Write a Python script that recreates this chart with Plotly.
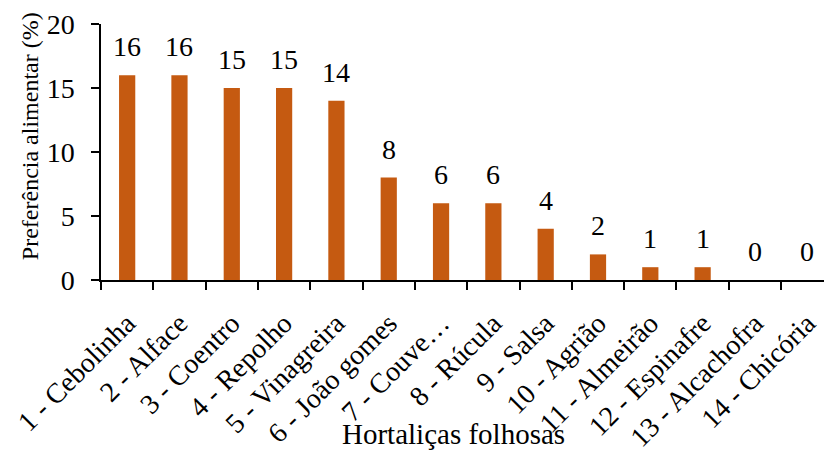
import plotly.graph_objects as go

categories = [
    "1 - Cebolinha", "2 - Alface", "3 - Coentro", "4 - Repolho",
    "5 - Vinagreira", "6 - João gomes", "7 - Couve…", "8 - Rúcula",
    "9 - Salsa", "10 - Agrião", "11 - Almeirão", "12 - Espinafre",
    "13 - Alcachofra", "14 - Chicória",
]
values = [16, 16, 15, 15, 14, 8, 6, 6, 4, 2, 1, 1, 0, 0]
y_ticks = [0, 5, 10, 15, 20]

FONT = "Liberation Serif"
BAR_COLOR = "#C55A11"

fig = go.Figure()
fig.add_trace(go.Bar(
    x=categories,
    y=values,
    marker=dict(color=BAR_COLOR, line=dict(width=0)),
    showlegend=False,
))

# value labels above each bar
for cat, val in zip(categories, values):
    fig.add_annotation(
        x=cat, y=val, text=str(val), showarrow=False,
        yanchor="bottom", yshift=11,
        font=dict(family=FONT, size=28, color="black"),
    )

# axis titles
fig.add_annotation(
    xref="paper", yref="paper", x=0.488, y=-0.664, yshift=-2,
    xanchor="center", yanchor="bottom", showarrow=False,
    text="Hortaliças folhosas", font=dict(family=FONT, size=29, color="black"),
)
fig.add_annotation(
    xref="paper", yref="paper", x=-0.098, y=0.5625,
    xanchor="center", yanchor="middle", showarrow=False, textangle=-90,
    text="Preferência alimentar (%)", font=dict(family=FONT, size=24, color="black"),
)

fig.update_layout(
    width=824, height=450,
    margin=dict(l=101, r=0, t=24, b=170),
    paper_bgcolor="white", plot_bgcolor="white",
    bargap=0.69,
    font=dict(family=FONT, color="black"),
)
fig.update_xaxes(
    type="category",
    range=[-0.5, 13.32],
    automargin=False,
    tickson="boundaries",
    ticks="outside", ticklen=8, tickcolor="black", tickwidth=1.5,
    showline=True, linecolor="black", linewidth=1.5,
    tickangle=-45,
    ticklabelstandoff=14,
    tickfont=dict(family=FONT, size=28),
    showgrid=False,
)
fig.update_yaxes(
    range=[0, 20],
    tickvals=y_ticks,
    automargin=False,
    ticks="outside", ticklen=8, tickcolor="black", tickwidth=1.5,
    showline=True, linecolor="black", linewidth=1.5,
    ticklabelstandoff=11,
    tickfont=dict(family=FONT, size=28),
    showgrid=False, zeroline=False,
)

fig.write_html("out.html")
